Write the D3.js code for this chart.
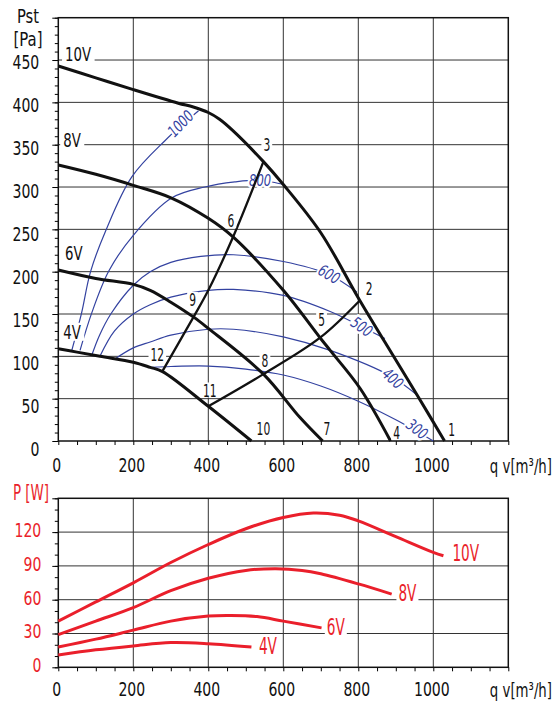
<!DOCTYPE html>
<html>
<head>
<meta charset="utf-8">
<script src="https://cdn.jsdelivr.net/npm/d3@7"></script>
<style>
  body { margin: 0; background: #fff; }
  text { font-family: "DejaVu Sans Condensed", "Liberation Sans Narrow", sans-serif; }
</style>
</head>
<body>
<svg id="chart" width="555" height="702"></svg>
<script>
// ---- data: static pressure curves [qv m3/h, Pst Pa]
const pst10V = [[0,443],[100,429],[200,415],[320,399],[360,394.5],[400,388],[430,380],[467,366],[547,330],[600,303],[700,246],[804,166],[894,100],[960,52],[1030,0]]
const pst8V  = [[0,326],[100,315],[200,302],[302,287],[400,263],[466,241],[600,178],[698,122],[725,107],[805,62],[886,0]]
const pst6V  = [[0,202],[100,192],[200,185],[245,178],[300,164],[362,146],[400,133],[547,79],[644,28],[705,0]]
const pst4V  = [[0,109],[50,105],[111,100],[200,93],[245,87],[278,82],[400,41],[515,0]]

// system lines through the working points
const sysA = [[277,82],[360,146],[400,178],[466,241],[547,330]]   // 12-9-6-3
const sysB = [[400,41],[547,79],[698,122],[804,166]]              // 11-8-5-2

// blue iso lines
const iso1000 = [[36,107],[62,151],[86,200],[127,249],[196,312],[285,355],[374,390]]
const iso800  = [[58,107],[89,151],[135,201],[200,243],[302,287],[391,300],[471,306],[538,308],[600,303]]
const iso600  = [[89,101],[110,125],[140,150],[200,184],[245,200],[300,211],[380,218],[467,220],[600,212],[720,197],[796,176]]
const iso500  = [[111,100],[150,130],[200,150],[245,161],[300,170],[400,178],[467,179],[600,172],[725,153],[809,135],[871,121]]
const iso400  = [[151,97],[200,110],[245,117],[300,125],[400,132],[467,132],[600,123],[725,107],[889,76],[960,53]]
const iso300  = [[250,87],[300,88],[400,88.5],[500,85],[600,78],[700,65],[800,47],[900,25],[1000,0]]
const isoNames = ["1000","800","600","500","400","300"]

// power curves [qv m3/h, P W]
const pw10V = [[0,41],[100,58],[200,75],[300,93],[400,109],[500,123],[600,133],[680,137],[750,135],[800,130],[900,116],[1000,102],[1027,99]]
const pw8V  = [[0,29],[100,41],[200,53],[300,68],[400,79],[500,86],[580,87.5],[650,86],[700,83],[800,74],[889,65]]
const pw6V  = [[0,18],[100,25],[200,33],[300,41],[400,45.5],[460,46],[530,45],[600,41],[702,35]]
const pw4V  = [[0,11],[100,15.5],[200,19],[300,22],[400,21],[515,18]]

const voltNames = ["10V","8V","6V","4V"]
const pointNames = ["1","2","3","4","5","6","7","8","9","10","11","12"]

const pstTicks = d3.range(0, 451, 50)
const pwTicks = d3.range(0, 121, 30)
const qvTicks = d3.range(0, 1001, 200)

// ---- annotation anchors (data space)
const voltAnchorsP = [[18,457],[13,356],[18,222],[13,129]]
const voltAnchorsW = [[1051,101.5],[907,66],[716,36],[535,19]]
const pointAnchors = [[1049,13],[829,180],[556,350],[902,10],[702,143],[460,260],[716,15],[551,95],[358,167],[547,15],[404,60],[264,102]]
const isoAnchors = [[326,375,-46],[538,308,0],[722,197,30],[809,135,35],[892,74,42],[957,14,38]]

const BLUE = "#3342a0", RED = "#ea1f2b", INK = "#111"

const svg = d3.select("#chart")
const x  = d3.scaleLinear().domain([0, 1200]).range([58.3, 508.3])
const yP = d3.scaleLinear().domain([0, 500]).range([441, 17.7])
const yW = d3.scaleLinear().domain([0, 150]).range([667.3, 498.3])
const yPLabel = d3.scaleLinear().domain([0, 450]).range([449, 62])

// the original uses a condensed face; squeeze the installed one to match
function condense(sel, k) {
  sel.each(function () {
    const w = this.getComputedTextLength()
    d3.select(this).attr("textLength", w * k).attr("lengthAdjust", "spacingAndGlyphs")
  })
}
function backing(sel, pad) {
  sel.each(function () {
    const b = this.getBBox()
    d3.select(this.parentNode).insert("rect", () => this)
      .attr("x", b.x - pad).attr("y", b.y + 3)
      .attr("width", b.width + 2 * pad).attr("height", b.height - 6)
      .attr("fill", "#fff")
  })
}

function frame(g, y, yMax, yStep, minorStep, labelPad) {
  g.append("g").selectAll("line").data(d3.range(200, 1200, 200)).join("line")
    .attr("x1", d => x(d)).attr("x2", d => x(d))
    .attr("y1", y(0)).attr("y2", y(yMax))
    .attr("stroke", "#333").attr("stroke-width", 1)
  g.append("g").selectAll("line").data(d3.range(yStep, yMax, yStep)).join("line")
    .attr("x1", x(0)).attr("x2", x(1200))
    .attr("y1", d => y(d)).attr("y2", d => y(d))
    .attr("stroke", "#333").attr("stroke-width", 1)
  // minor ticks
  g.append("g").attr("transform", `translate(${x(0)},0)`)
    .call(d3.axisLeft(y).tickValues(d3.range(0, yMax + 1, minorStep)).tickSize(3.5).tickFormat(""))
    .call(s => s.select(".domain").remove())
  g.append("g").attr("transform", `translate(${x(0)},0)`)
    .call(d3.axisLeft(y).tickValues(d3.range(0, yMax + 1, yStep)).tickSize(6).tickFormat(""))
    .call(s => s.select(".domain").remove())
  g.append("g").attr("transform", `translate(0,${y(0)})`)
    .call(d3.axisBottom(x).tickValues(d3.range(0, 1201, 50)).tickSize(4).tickFormat(""))
    .call(s => s.select(".domain").remove())
  g.append("g").attr("transform", `translate(0,${y(0)})`)
    .call(d3.axisBottom(x).tickValues(qvTicks).tickSize(0).tickPadding(labelPad).tickFormat(d3.format("d")))
    .call(s => s.select(".domain").remove())
    .attr("font-size", 20).attr("font-family", null)
    .call(s => s.selectAll("text").attr("dx", -2).attr("fill", INK).call(condense, 0.78))
  g.append("rect")
    .attr("x", x(0)).attr("y", y(yMax))
    .attr("width", x(1200) - x(0)).attr("height", y(0) - y(yMax))
    .attr("fill", "none").attr("stroke", INK).attr("stroke-width", 1.5)
  // unit label, squeezed with a transform so its box stays inside the page
  g.append("text")
    .attr("transform", `translate(552,${y(0) + labelPad + 14.5}) scale(0.74,1)`)
    .attr("text-anchor", "end").attr("font-size", 20).attr("fill", INK)
    .text("q v[m³/h]")
}

// ================= top chart
const gTop = svg.append("g")
frame(gTop, yP, 500, 50, 10, 17)
gTop.append("g").attr("transform", `translate(${x(0)},0)`)
  .call(d3.axisLeft(yP).tickValues(pstTicks).tickSize(0).tickPadding(19))
  .call(s => s.select(".domain").remove())
  .attr("font-size", 20).attr("font-family", null)
  .call(s => s.selectAll("text").attr("y", d => yPLabel(d) - yP(d)).attr("fill", INK).call(condense, 0.78))
gTop.append("text").attr("x", 28).attr("y", 23).attr("text-anchor", "middle")
  .attr("font-size", 19).attr("fill", INK).text("Pst")
  .attr("textLength", 22).attr("lengthAdjust", "spacingAndGlyphs")
gTop.append("text").attr("x", 28).attr("y", 45.5).attr("text-anchor", "middle")
  .attr("font-size", 19).attr("fill", INK).text("[Pa]")
  .attr("textLength", 29).attr("lengthAdjust", "spacingAndGlyphs")

const lineP = d3.line().x(d => x(d[0])).y(d => yP(d[1])).curve(d3.curveCatmullRom.alpha(0.5))

// blue iso lines
const isoLines = [iso1000, iso800, iso600, iso500, iso400, iso300]
gTop.append("g").selectAll("path").data(isoLines).join("path")
  .attr("d", lineP).attr("fill", "none").attr("stroke", BLUE).attr("stroke-width", 1.2)
const isoText = gTop.append("g").selectAll("text").data(isoNames).join("text")
  .attr("transform", (d, i) => `translate(${x(isoAnchors[i][0])},${yP(isoAnchors[i][1])}) rotate(${isoAnchors[i][2]})`)
  .attr("text-anchor", "middle").attr("dy", "0.35em")
  .attr("font-size", 16).attr("font-style", "italic").attr("fill", BLUE)
  .attr("stroke", "#fff").attr("stroke-width", 5).attr("paint-order", "stroke")
  .text(d => d)
condense(isoText, 0.8)

// system lines and fan curves
gTop.append("g").selectAll("path").data([sysA, sysB]).join("path")
  .attr("d", lineP).attr("fill", "none").attr("stroke", INK).attr("stroke-width", 2.3)
gTop.append("g").selectAll("path").data([pst10V, pst8V, pst6V, pst4V]).join("path")
  .attr("d", lineP).attr("fill", "none").attr("stroke", INK).attr("stroke-width", 3)

const vtP = gTop.append("g").selectAll("text").data(voltNames).join("text")
  .attr("x", (d, i) => x(voltAnchorsP[i][0])).attr("y", (d, i) => yP(voltAnchorsP[i][1]))
  .attr("dy", "0.35em").attr("font-size", 20).attr("fill", INK).text(d => d)
condense(vtP, 0.74)
backing(vtP, 3)

const ptP = gTop.append("g").selectAll("text").data(pointNames).join("text")
  .attr("x", (d, i) => x(pointAnchors[i][0])).attr("y", (d, i) => yP(pointAnchors[i][1]))
  .attr("text-anchor", "middle").attr("dy", "0.35em")
  .attr("font-size", 18).attr("fill", INK).text(d => d)
condense(ptP, 0.66)
backing(ptP, 2)

// ================= bottom chart
const gBot = svg.append("g")
frame(gBot, yW, 150, 30, 10, 15)
gBot.append("g").attr("transform", `translate(${x(0)},0)`)
  .call(d3.axisLeft(yW).tickValues(pwTicks).tickSize(0).tickPadding(17))
  .call(s => s.select(".domain").remove())
  .attr("font-size", 20).attr("font-family", null)
  .call(s => s.selectAll("text").attr("y", -2).attr("fill", RED).call(condense, 0.78))
gBot.append("text").attr("x", 31).attr("y", 500).attr("text-anchor", "middle")
  .attr("font-size", 21).attr("fill", RED).text("P [W]").call(condense, 0.71)

const lineW = d3.line().x(d => x(d[0])).y(d => yW(d[1])).curve(d3.curveCatmullRom.alpha(0.5))
gBot.append("g").selectAll("path").data([pw10V, pw8V, pw6V, pw4V]).join("path")
  .attr("d", lineW).attr("fill", "none").attr("stroke", RED).attr("stroke-width", 3)
const vtW = gBot.append("g").selectAll("text").data(voltNames).join("text")
  .attr("x", (d, i) => x(voltAnchorsW[i][0])).attr("y", (d, i) => yW(voltAnchorsW[i][1]))
  .attr("dy", "0.35em").attr("font-size", 23).attr("fill", RED).text(d => d)
condense(vtW, 0.66)
backing(vtW, 2)
</script>
</body>
</html>
